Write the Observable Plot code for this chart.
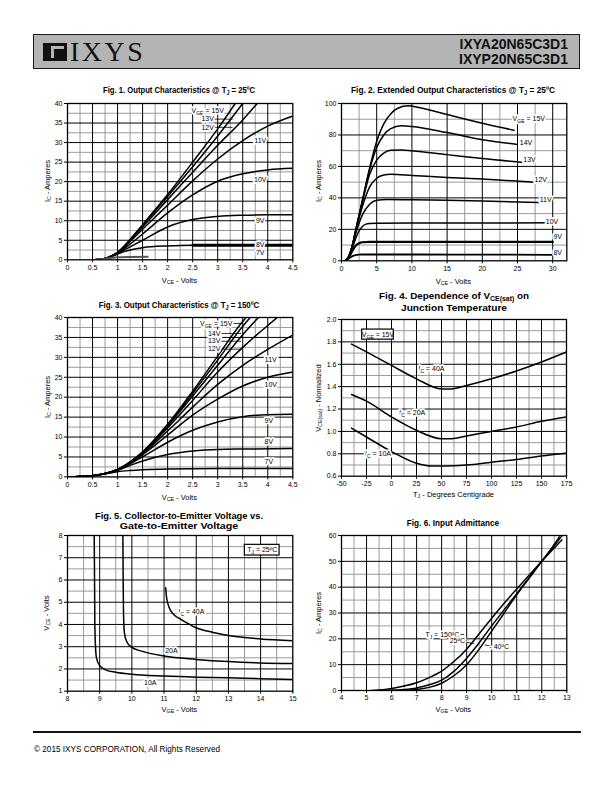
<!DOCTYPE html>
<html><head><meta charset="utf-8">
<script src="https://cdn.jsdelivr.net/npm/d3@7"></script>
<script src="https://cdn.jsdelivr.net/npm/@observablehq/plot@0.6"></script>
<style>
body{margin:0;background:#fff;}
#page{position:relative;width:612px;height:792px;overflow:hidden;font-family:"Liberation Sans",Arial,sans-serif;color:#000;}
.title{position:absolute;white-space:nowrap;text-align:center;font-family:"Liberation Sans",Arial,sans-serif;font-weight:bold;font-size:9.6px;line-height:10px;}
.xl{position:absolute;transform:translate(-50%,-50%);white-space:nowrap;font-size:7.5px;}
.yl{position:absolute;transform:translate(-50%,-50%) rotate(-90deg);white-space:nowrap;font-size:7.5px;}
sub{font-size:70%;vertical-align:-0.25em;line-height:0;}
</style>
</head><body><div id="page"></div>
<script>
// ---------------- DATA ----------------
// Fig 1: IC (A) vs VCE (V) @ TJ = 25C
const f1_15V = [[0.55,0],[0.7,0.2],[0.8,0.55],[0.9,1.1],[1.0,1.9],[1.25,5.2],[1.5,9],[2,16.7],[2.5,25],[3,33.5],[3.35,40]];
const f1_13V = [[0.55,0],[0.7,0.2],[0.8,0.55],[0.9,1.1],[1.0,1.9],[1.25,5.1],[1.5,8.8],[2,16.2],[2.5,23.8],[3,31.7],[3.5,40]];
const f1_12V = [[0.55,0],[0.7,0.2],[0.8,0.55],[0.9,1.1],[1.0,1.85],[1.25,5],[1.5,8.4],[2,15.4],[2.5,22.4],[3,29.3],[3.5,35.8],[3.79,40]];
const f1_11V = [[0.55,0],[0.7,0.2],[0.8,0.55],[0.9,1.1],[1.0,1.8],[1.25,4.7],[1.5,7.8],[2,14],[2.5,20.2],[3,25.8],[3.5,30.5],[4,34.2],[4.5,36.8]];
const f1_10V = [[0.55,0],[0.7,0.2],[0.8,0.55],[0.9,1.05],[1.0,1.7],[1.25,4],[1.5,6.6],[2,12],[2.5,16.6],[3,20.1],[3.5,22],[4,23],[4.5,23.4]];
const f1_9V  = [[0.55,0],[0.7,0.2],[0.8,0.5],[0.9,1.0],[1.0,1.6],[1.25,3.3],[1.5,5],[2,8.4],[2.5,10.3],[3,11.1],[3.5,11.4],[4,11.5],[4.5,11.5]];
const f1_8V  = [[0.55,0],[0.7,0.2],[0.8,0.5],[0.9,0.95],[1.0,1.5],[1.25,2.5],[1.5,3.1],[2,3.55],[2.5,3.7],[3,3.7],[4.5,3.7]];
const f1_7V  = [[0.55,0],[0.7,0.2],[0.8,0.4],[0.9,0.55],[1.0,0.65],[1.3,0.72],[1.6,0.75]];
const f1_labels = [
  {x:2.8,y:38.1,t:"V_{GE} = 15V",a:"end"},{x:2.8,y:36,t:"13V",a:"end"},{x:2.8,y:33.9,t:"12V",a:"end"},
  {x:3.85,y:30.4,t:"11V",a:"middle"},{x:3.85,y:20.5,t:"10V",a:"middle"},{x:3.85,y:10,t:"9V",a:"middle"},
  {x:3.85,y:3.8,t:"8V",a:"middle"},{x:3.85,y:1.7,t:"7V",a:"middle"}];
const f1_leaders = [{x1:2.83,x2:3.12,y:38.1},{x1:2.83,x2:3.3,y:36},{x1:2.83,x2:3.3,y:33.9}];

// Fig 2: IC (A) vs VCE (V), extended, @ 25C
const f2_15V = [[0.5,0],[1,2.5],[1.5,9],[2,19],[3,39],[4,59],[5,76],[6,87],[7,93.5],[8,97],[9.5,98.5],[11,97.5],[15,93],[20,87.5],[24.5,83]];
const f2_14V = [[0.5,0],[1,2.5],[1.5,9],[2,19],[3,39],[4,58],[5,72],[6,80],[7,84],[8.5,85.8],[10,85.4],[15,81.5],[20,77],[25,74]];
const f2_13V = [[0.5,0],[1,2.5],[1.5,9],[2,19],[3,38],[4,55],[5,64],[6,68.5],[7,70.3],[8.5,70.5],[10,70],[15,67.5],[20,65],[26,62.5]];
const f2_12V = [[0.5,0],[1,2.5],[1.5,9],[2,18.5],[3,35],[4,47],[5,52.5],[6,54.5],[7,55],[10,54.3],[15,53],[20,52],[27.5,50]];
const f2_11V = [[0.5,0],[1,2.4],[1.5,8.5],[2,17],[3,29.5],[4,36],[5,38.5],[6.5,39],[10,38.8],[15,38.5],[20,38],[28,37]];
const f2_10V = [[0.5,0],[1,2.2],[1.5,7.5],[2,14],[2.5,19],[3,22],[3.5,23.3],[4,23.7],[5,23.9],[10,24],[20,24],[30,24.2]];
const f2_9V  = [[0.5,0],[1,2],[1.5,6],[2,9.5],[2.5,11.2],[3,11.8],[4,12],[10,12],[30,12]];
const f2_8V  = [[0.5,0],[1,1.3],[1.5,2.8],[2,3.6],[2.5,3.9],[3,4],[10,4],[20,3.9],[30,3.8]];
const f2_labels = [
  {x:26.6,y:90,t:"V_{GE} = 15V",a:"end"},{x:26.2,y:75.2,t:"14V",a:"middle"},{x:26.7,y:64.2,t:"13V",a:"middle"},
  {x:28.3,y:51.3,t:"12V",a:"middle"},{x:29.0,y:38.6,t:"11V",a:"middle"},{x:29.9,y:24.8,t:"10V",a:"middle"},
  {x:30.7,y:15.3,t:"9V",a:"middle"},{x:30.7,y:5.3,t:"8V",a:"middle"}];
const f2_leaders = [{x1:26.8,x2:27.8,y:90}];

// Fig 3: IC (A) vs VCE (V) @ TJ = 150C
const f3_15V = [[0,0],[0.25,0.08],[0.5,0.3],[0.75,0.85],[1,1.9],[1.25,3.8],[1.5,6.3],[2,13.2],[2.5,21.5],[3,30.3],[3.5,39],[3.57,40]];
const f3_14V = [[0,0],[0.25,0.08],[0.5,0.3],[0.75,0.85],[1,1.9],[1.25,3.7],[1.5,6.2],[2,13],[2.5,21],[3,29.3],[3.5,37.8],[3.72,41]];
const f3_13V = [[0,0],[0.25,0.08],[0.5,0.3],[0.75,0.85],[1,1.85],[1.25,3.7],[1.5,6.1],[2,12.8],[2.5,20.3],[3,28],[3.5,35.7],[3.89,41]];
const f3_12V = [[0,0],[0.25,0.08],[0.5,0.3],[0.75,0.85],[1,1.85],[1.25,3.6],[1.5,6],[2,12.3],[2.5,19.2],[3,26.3],[3.5,32.5],[4,38],[4.24,40.5]];
const f3_11V = [[0,0],[0.25,0.08],[0.5,0.3],[0.75,0.85],[1,1.8],[1.25,3.6],[1.5,5.9],[2,11.5],[2.5,17.5],[3,23.2],[3.5,28],[4,32],[4.5,35.6]];
const f3_10V = [[0,0],[0.25,0.08],[0.5,0.3],[0.75,0.85],[1,1.75],[1.25,3.5],[1.5,5.6],[2,10.5],[2.5,15.5],[3,19.5],[3.5,22.8],[4,25],[4.5,26.3]];
const f3_9V  = [[0,0],[0.25,0.08],[0.5,0.3],[0.75,0.8],[1,1.7],[1.25,3.3],[1.5,5],[2,8.7],[2.5,11.7],[3,13.8],[3.5,15.1],[4,15.6],[4.5,15.7]];
const f3_8V  = [[0,0],[0.25,0.08],[0.5,0.3],[0.75,0.8],[1,1.6],[1.25,2.9],[1.5,4],[2,5.6],[2.5,6.5],[3,6.9],[3.5,7.0],[4.5,7.1]];
const f3_7V  = [[0,0],[0.25,0.08],[0.5,0.3],[0.75,0.75],[1,1.3],[1.25,1.6],[1.5,1.8],[2,2.0],[3,2.1],[4.5,2.1]];
const f3_labels = [
  {x:2.97,y:38.5,t:"V_{GE} = 15V",a:"end"},{x:2.93,y:36,t:"14V",a:"end"},{x:2.93,y:34.05,t:"13V",a:"end"},{x:2.93,y:32.05,t:"12V",a:"end"},
  {x:4.06,y:29.5,t:"11V",a:"middle"},{x:4.06,y:23.2,t:"10V",a:"middle"},{x:4.02,y:14,t:"9V",a:"middle"},
  {x:4.02,y:8.8,t:"8V",a:"middle"},{x:4.02,y:3.8,t:"7V",a:"middle"}];
const f3_leaders = [{x1:3.0,x2:3.47,y:38.5},{x1:2.96,x2:3.47,y:36},{x1:2.96,x2:3.47,y:34.05},{x1:2.96,x2:3.47,y:32.05}];

// Fig 4: VCE(sat) normalized vs TJ (C)
const f4_40A = [[-40,1.78],[-25,1.71],[0,1.59],[25,1.47],[50,1.38],[60,1.38],[75,1.41],[100,1.47],[125,1.54],[150,1.62],[175,1.71]];
const f4_20A = [[-40,1.33],[-25,1.27],[0,1.13],[25,1.01],[50,0.935],[60,0.935],[75,0.96],[100,1.0],[125,1.04],[150,1.09],[175,1.13]];
const f4_10A = [[-40,1.03],[-25,0.95],[0,0.82],[25,0.715],[40,0.69],[50,0.69],[75,0.70],[100,0.725],[125,0.75],[150,0.78],[175,0.805]];
const f4_labels = [{x:40,y:1.556,t:"I_{C} = 40A",a:"middle"},{x:20.7,y:1.166,t:"I_{C} = 20A",a:"middle"},{x:-13.5,y:0.80,t:"I_{C} = 10A",a:"middle"}];
const f4_box = [{x1:-29.3,x2:2.3,y1:1.82,y2:1.91,t:"V_{GE} = 15V"}];

// Fig 5: VCE (V) vs VGE (V)
const f5_10A = [[8.83,8],[8.84,6],[8.85,4],[8.87,3],[8.9,2.5],[9,2.15],[9.2,1.95],[9.5,1.85],[10,1.76],[11,1.68],[12,1.63],[13,1.6],[14,1.56],[15,1.53]];
const f5_20A = [[9.72,8],[9.73,6],[9.74,4.5],[9.77,3.6],[9.85,3.2],[10,2.97],[10.3,2.8],[11,2.58],[12,2.43],[13,2.33],[14,2.27],[15,2.24]];
const f5_40A = [[11.05,5.65],[11.08,5.2],[11.15,4.8],[11.3,4.45],[11.5,4.25],[11.8,4.0],[12,3.85],[12.5,3.65],[13,3.5],[14,3.35],[15,3.27]];
const f5_labels = [{x:11.85,y:4.55,t:"I_{C} = 40A",a:"middle"},{x:11.23,y:2.83,t:"20A",a:"middle"},{x:10.57,y:1.4,t:"10A",a:"middle"}];
const f5_box = [{x1:13.51,x2:14.59,y1:7.1,y2:7.58,t:"T_{J} = 25ºC"}];

// Fig 6: IC (A) vs VGE (V)
const f6_150 = [[5.2,0],[5.5,0.2],[6,0.8],[6.5,1.7],[7,3],[7.5,5],[8,7.5],[8.5,11.3],[9,16],[9.5,22],[10,28],[10.5,33.8],[11,39.3],[11.5,44.7],[12,50],[12.5,55.2],[12.8,58.3]];
const f6_25  = [[5.5,0],[6,0.1],[6.5,0.4],[7,1],[7.5,2.2],[8,4],[8.5,7.5],[9,12.5],[9.5,18.5],[10,25],[10.5,31.3],[11,37.5],[11.5,43.8],[12,50],[12.5,56.5],[12.7,59.5]];
const f6_m40 = [[6,0],[6.5,0.1],[7,0.4],[7.5,1.2],[8,2.8],[8.5,5.8],[9,10],[9.5,16],[10,23],[10.5,30],[11,37],[11.5,43.5],[12,50],[12.5,56],[12.8,59.8]];
const f6_labels = [{x:8.03,y:21.7,t:"T_{J} = 150ºC",a:"end"},{x:8.63,y:19.1,t:"25ºC",a:"end"},{x:10.3,y:16.8,t:"- 40ºC",a:"start"}];
const f6_leaders = [{x1:8.08,x2:8.9,y:21.7},{x1:8.66,x2:9.3,y:19.1,y2:18.2},{x1:9.72,x2:10.25,y:17.6,y2:16.8}];

// tick values
const t1x = d3.range(0,4.51,0.5), t1y = d3.range(0,41,5);
const t2x = d3.range(0,31,5), t2y = d3.range(0,101,20);
const t4x = d3.range(-50,176,25), t4y = d3.range(0.6,2.01,0.2);
const t5x = d3.range(8,15.1,1), t5y = d3.range(1,8.1,1);
const t6x = d3.range(4,13.1,1), t6y = d3.range(0,61,10);

// ---------------- RENDER ----------------
const page = document.getElementById("page");
const FONT = '"Liberation Sans", Arial, sans-serif';
const NS = "http://www.w3.org/2000/svg";

function subify(root){
  root.querySelectorAll("text").forEach(t=>{
    const s = t.textContent;
    if(!s.includes("_{")) return;
    while(t.firstChild) t.removeChild(t.firstChild);
    s.split(/(_\{[^}]*\})/).forEach(p=>{
      if(!p) return;
      const ts = document.createElementNS(NS,"tspan");
      if(p.startsWith("_{")){ ts.textContent = p.slice(2,-1); ts.setAttribute("font-size","0.72em"); ts.setAttribute("baseline-shift","-0.3em"); }
      else ts.textContent = p;
      t.appendChild(ts);
    });
  });
}

function html(cls, x, y, inner){
  const d = document.createElement("div");
  d.className = cls; d.style.left = x+"px"; d.style.top = y+"px"; d.innerHTML = inner;
  page.appendChild(d);
  return d;
}

// title: centred at x, y; squeezed horizontally to the reference's width
function title(x, y, inner, w){
  const d = html("title", x, y, inner);
  const nat = d.offsetWidth;
  const s = w / nat;
  d.style.transform = `translate(-50%,-50%) scaleX(${s.toFixed(3)})`;
}

function chart(o){
  const [L,T,R,B] = o.frame;
  const ml=30, mr=16, mt=8, mb=16;
  const GRAY = "#8f8f8f";
  const marks = [
    Plot.ruleX(o.xMinor, {stroke:GRAY, strokeWidth:0.9}),
    Plot.ruleY(o.yMinor, {stroke:GRAY, strokeWidth:0.9}),
    Plot.ruleX(o.xMajor, {stroke:"#000", strokeWidth:1}),
    Plot.ruleY(o.yMajor, {stroke:"#000", strokeWidth:1}),
    Plot.frame({stroke:"#000", strokeWidth:1.3}),
    ...o.series.map(s => Plot.line(s.data, {x:d=>d[0], y:d=>d[1], curve:"monotone-x", stroke:s.color||"#000", strokeWidth:s.w||1.5, clip:true}))
  ];
  if(o.leaders) marks.push(Plot.link(o.leaders, {x1:"x1", x2:"x2", y1:"y", y2:d=>d.y2 ?? d.y, stroke:"#000", strokeWidth:0.8}));
  if(o.boxes){
    marks.push(Plot.rect(o.boxes, {x1:"x1", x2:"x2", y1:"y1", y2:"y2", fill:"white", stroke:"#000", strokeWidth:1.2}));
    marks.push(Plot.text(o.boxes, {x:d=>(d.x1+d.x2)/2, y:d=>(d.y1+d.y2)/2, text:"t", fontSize:7, fill:"#000"}));
  }
  if(o.labels) marks.push(Plot.text(o.labels, {x:"x", y:"y", text:"t", textAnchor:"a", fontSize:7, fill:"#000", stroke:"white", strokeWidth:3.5}));
  const svg = Plot.plot({
    width: R-L+ml+mr, height: B-T+mt+mb,
    marginLeft: ml, marginRight: mr, marginTop: mt, marginBottom: mb,
    style: {fontFamily: FONT, fontSize:"7px", color:"#000", background:"transparent", overflow:"visible"},
    x: {domain:o.xDomain, ticks:o.xTicks, tickSize:3, tickPadding:2, label:null, tickFormat:o.xFormat || (d=>String(d))},
    y: {domain:o.yDomain, ticks:o.yTicks, tickSize:3, tickPadding:2, label:null, tickFormat:o.yFormat || (d=>String(d))},
    marks
  });
  subify(svg);
  const d = document.createElement("div");
  d.style.cssText = `position:absolute;left:${L-ml}px;top:${T-mt}px;`;
  d.appendChild(svg);
  page.appendChild(d);
  const cx = (L+R)/2;
  o.titles.forEach(([txt,y,w]) => title(cx, y, txt, w));
  html("xl", cx, o.xlY, o.xl);
  html("yl", o.ylX, (T+B)/2, o.yl);
}

// Fig 1
chart({frame:[66.7,102.7,292,259], xDomain:[0,4.5], yDomain:[0,40], xTicks:t1x, yTicks:t1y,
  xMinor:d3.range(0.25,4.5,0.5), xMajor:d3.range(0.5,4.5,0.5), yMinor:d3.range(2.5,40,5), yMajor:d3.range(5,40,5),
  series:[{data:f1_15V},{data:f1_13V},{data:f1_12V},{data:f1_11V},{data:f1_10V},{data:f1_9V},{data:f1_8V},{data:f1_8V.filter(d=>d[0]>=2.4),w:3},{data:f1_7V,color:"#555",w:2}],
  labels:f1_labels, leaders:f1_leaders,
  titles:[["Fig. 1. Output Characteristics @ T<sub>J</sub> = 25ºC",90,152]], xl:"V<sub>CE</sub> - Volts", xlY:280, yl:"I<sub>C</sub> - Amperes", ylX:47});
// Fig 2
chart({frame:[340.7,102.7,566,260], xDomain:[0,32], yDomain:[0,100], xTicks:t2x, yTicks:t2y,
  xMinor:d3.range(2.5,32,5), xMajor:d3.range(5,31,5), yMinor:d3.range(10,100,20), yMajor:d3.range(20,100,20),
  series:[{data:f2_15V},{data:f2_14V},{data:f2_13V},{data:f2_12V},{data:f2_11V},{data:f2_10V},{data:f2_9V,w:2.2},{data:f2_8V,w:1.8}],
  labels:f2_labels, leaders:f2_leaders,
  titles:[["Fig. 2. Extended Output Characteristics @ T<sub>J</sub> = 25ºC",90,204]], xl:"V<sub>CE</sub> - Volts", xlY:280.5, yl:"I<sub>C</sub> - Amperes", ylX:318});
// Fig 3
chart({frame:[66.7,317.3,292,476.7], xDomain:[0,4.5], yDomain:[0,40], xTicks:t1x, yTicks:t1y,
  xMinor:d3.range(0.25,4.5,0.5), xMajor:d3.range(0.5,4.5,0.5), yMinor:d3.range(2.5,40,5), yMajor:d3.range(5,40,5),
  series:[{data:f3_15V},{data:f3_14V},{data:f3_13V},{data:f3_12V},{data:f3_11V},{data:f3_10V},{data:f3_9V},{data:f3_8V},{data:f3_7V}],
  labels:f3_labels, leaders:f3_leaders,
  titles:[["Fig. 3. Output Characteristics @ T<sub>J</sub> = 150ºC",305,160]], xl:"V<sub>CE</sub> - Volts", xlY:496.5, yl:"I<sub>C</sub> - Amperes", ylX:47});
// Fig 4
chart({frame:[341,319.3,566,476], xDomain:[-50,175], yDomain:[0.6,2.0], xTicks:t4x, yTicks:t4y, yFormat:d=>d.toFixed(1),
  xMinor:d3.range(-37.5,175,25), xMajor:d3.range(-25,175,25), yMinor:d3.range(0.7,2.0,0.2), yMajor:d3.range(0.8,1.95,0.2),
  series:[{data:f4_40A},{data:f4_20A},{data:f4_10A}], labels:f4_labels, boxes:f4_box,
  titles:[["Fig. 4. Dependence of V<sub>CE(sat)</sub> on",296,150],["Junction Temperature",307.5,106]], xl:"T<sub>J</sub> - Degrees Centigrade", xlY:494, yl:"V<sub>CE(sat)</sub> - Normalized", ylX:318});
// Fig 5
chart({frame:[66.7,535,292,690.7], xDomain:[8,15], yDomain:[1,8], xTicks:t5x, yTicks:t5y,
  xMinor:d3.range(8.5,15,1), xMajor:d3.range(9,15,1), yMinor:d3.range(1.5,8,1), yMajor:d3.range(2,8,1),
  series:[{data:f5_10A},{data:f5_20A},{data:f5_40A}], labels:f5_labels, boxes:f5_box,
  titles:[["Fig. 5. Collector-to-Emitter Voltage vs.",515.5,168],["Gate-to-Emitter Voltage",526,118]], xl:"V<sub>GE</sub> - Volts", xlY:709, yl:"V<sub>CE</sub> - Volts", ylX:46});
// Fig 6
chart({frame:[340.7,535,566,690], xDomain:[4,13], yDomain:[0,60], xTicks:t6x, yTicks:t6y,
  xMinor:d3.range(4.5,13,1), xMajor:d3.range(5,13,1), yMinor:d3.range(5,60,10), yMajor:d3.range(10,60,10),
  series:[{data:f6_150},{data:f6_25},{data:f6_m40}], labels:f6_labels, leaders:f6_leaders,
  titles:[["Fig. 6. Input Admittance",523,92]], xl:"V<sub>GE</sub> - Volts", xlY:708.5, yl:"I<sub>C</sub> - Amperes", ylX:318});

// ---------------- HEADER / FOOTER ----------------
const hdr = document.createElement("div");
hdr.style.cssText = "position:absolute;left:33px;top:34px;width:545px;height:33px;background:#b4b4b4;border:1.5px solid #1a1a1a;";
hdr.innerHTML = `
<svg width="24" height="18" style="position:absolute;left:9px;top:8px">
  <rect x="0" y="0" width="24" height="18" fill="#111"/>
  <rect x="8" y="3" width="3" height="12" fill="#b4b4b4"/>
  <rect x="11" y="3" width="10" height="3" fill="#b4b4b4"/>
</svg>
<div style="position:absolute;left:36px;top:1px;font-family:'Liberation Serif','Times New Roman',serif;font-size:28px;letter-spacing:2.5px;line-height:32px;color:#111">IXYS</div>
<div style="position:absolute;right:11px;top:2px;text-align:right;font-family:'Liberation Sans',Arial,sans-serif;font-weight:bold;font-size:14px;line-height:15px;color:#111">IXYA20N65C3D1<br>IXYP20N65C3D1</div>`;
page.appendChild(hdr);
const rule = document.createElement("div");
rule.style.cssText = "position:absolute;left:33px;top:731px;width:548px;height:1.5px;background:#111;";
page.appendChild(rule);
const ft = document.createElement("div");
ft.style.cssText = "position:absolute;left:34px;top:745px;font-size:8.2px;white-space:nowrap;";
ft.textContent = "© 2015 IXYS CORPORATION, All Rights Reserved";
page.appendChild(ft);
</script>
</body></html>
